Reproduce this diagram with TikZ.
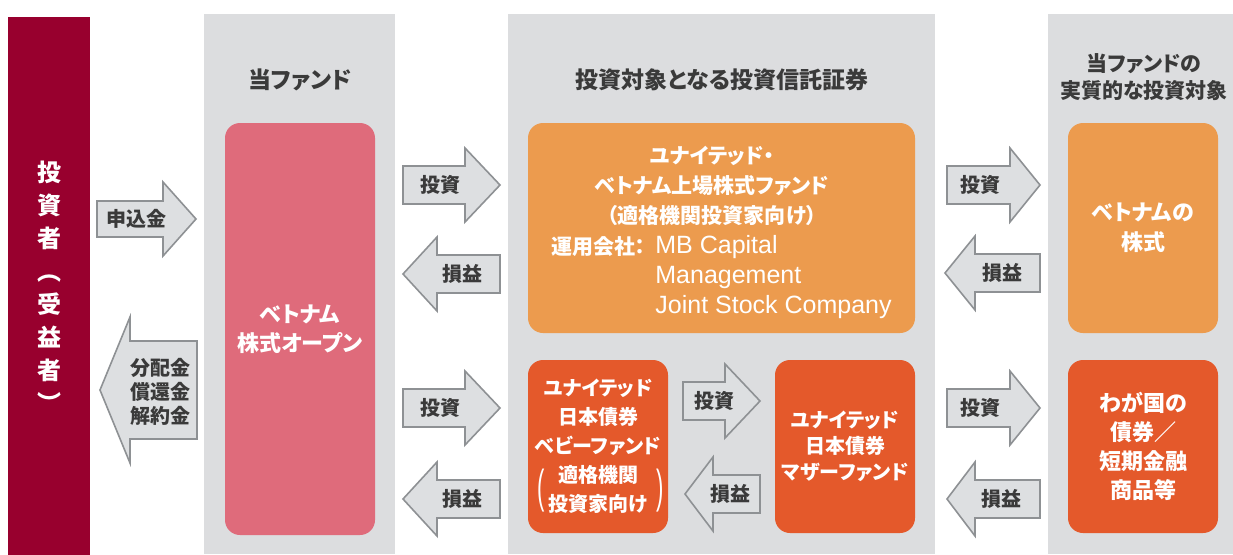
\documentclass[tikz,border=0pt]{standalone}
\usepackage{fontspec}
\newfontfamily\jpfont{Noto Sans CJK JP}[RawFeature=+palt]
\newfontfamily\latinfont{Liberation Sans}

\definecolor{investorred}{HTML}{98002E}
\definecolor{panelgray}{HTML}{DCDDDF}
\definecolor{fundpink}{HTML}{DF6B7B}
\definecolor{fundorange}{HTML}{EC9B4E}
\definecolor{fundred}{HTML}{E4592B}
\definecolor{arrowfill}{HTML}{DDDFE1}
\definecolor{arrowline}{HTML}{8E9194}
\definecolor{titletext}{HTML}{3A3A3A}

\newcommand{\boxfont}{\jpfont\bfseries\fontsize{11pt}{14.5pt}\selectfont}
\newcommand{\smallboxfont}{\jpfont\bfseries\fontsize{10pt}{14.5pt}\selectfont}
\newcommand{\titlefont}{\jpfont\bfseries\fontsize{11.5pt}{13.5pt}\selectfont}
\newcommand{\labelfont}{\jpfont\bfseries\fontsize{10pt}{12pt}\selectfont}

\tikzset{
  panel/.style={fill=panelgray, inner sep=0pt, minimum height=270pt},
  fundbox/.style={rounded corners=7.5pt, inner sep=0pt, text=white, align=center, font=\boxfont},
  boxtext/.style={inner sep=0pt, text=white, align=center, font=\boxfont},
  parenmark/.style={inner sep=0pt, text=white, yscale=2.1, font=\latinfont\fontsize{11pt}{11pt}\selectfont},
  blockarrow/.style={fill=arrowfill, draw=arrowline, line width=0.8pt},
  flowlabel/.style={inner sep=0pt, text=titletext, align=center, font=\labelfont},
  paneltitle/.style={inner sep=0pt, text=titletext, align=center, font=\titlefont}
}

\begin{document}
\begin{tikzpicture}[x=0.5pt,y=-0.5pt]
\useasboundingbox (0,0) rectangle (1233,554);

% investor bar and grey panels
\node[fill=investorred, inner sep=0pt, minimum width=41pt, minimum height=270pt, text=white, align=center,
  font=\jpfont\bfseries\fontsize{12pt}{16.5pt}\selectfont] (investor) at (49,287)
  {投\\資\\者\\︵\\受\\益\\者\\︶};
\node[panel, minimum width=95.5pt] (fundpanel) at (299.5,284) {};
\node[panel, minimum width=213.5pt] (targetpanel) at (721.5,284) {};
\node[panel, minimum width=92.5pt] (realpanel) at (1140.5,284) {};

% panel titles
\node[paneltitle] (fundtitle) at (300,80) {当ファンド};
\node[paneltitle] (targettitle) at (722,80) {投資対象となる投資信託証券};
\node[paneltitle, font=\jpfont\bfseries\fontsize{10.5pt}{13.5pt}\selectfont] (realtitle) at (1144,77)
  {当ファンドの\\実質的な投資対象};

% funds
\node[fundbox, fill=fundpink, minimum width=75pt, minimum height=206pt] (vnopen) at (300,329) {ベトナム\\株式オープン};
\node[fundbox, fill=fundorange, minimum width=193.5pt, minimum height=105pt] (unitedvn) at (721.5,228) {};
\node[boxtext, font=\jpfont\bfseries\fontsize{10.5pt}{15pt}\selectfont] (unitedvnname) at (712,186)
  {ユナイテッド・\\ベトナム上場株式ファンド\\（適格機関投資家向け）};
\node[boxtext, anchor=east, font=\jpfont\bfseries\fontsize{10.5pt}{15pt}\selectfont] (mgrlabel) at (646,247) {運用会社：};
\node[boxtext, anchor=west, align=left, font=\latinfont\fontsize{12.5pt}{15pt}\selectfont] (mgrname) at (655,277)
  {MB Capital\\Management\\Joint Stock Company};
\node[fundbox, fill=fundred, minimum width=70pt, minimum height=86.5pt, font=\smallboxfont] (babyfund) at (598,446.5)
  {ユナイテッド\\日本債券\\ベビーファンド\\適格機関\\投資家向け};
\node[parenmark] (babyparenl) at (541,491) {(};
\node[parenmark] (babyparenr) at (660,491) {)};
\node[fundbox, fill=fundred, minimum width=70pt, minimum height=86.5pt,
  font=\jpfont\bfseries\fontsize{10pt}{13pt}\selectfont] (motherfund) at (845,446.5)
  {ユナイテッド\\日本債券\\マザーファンド};
\node[fundbox, fill=fundorange, minimum width=75pt, minimum height=105pt,
  font=\jpfont\bfseries\fontsize{11pt}{15pt}\selectfont] (vnstock) at (1143,228) {ベトナムの\\株式};
\node[fundbox, fill=fundred, minimum width=75pt, minimum height=86.5pt] (jpbond) at (1143,446.5)
  {わが国の\\債券／\\短期金融\\商品等};

% investor arrows
\draw[blockarrow] (97,201) -- (163,201) -- (163,182) -- (196,219) -- (163,256) -- (163,237) -- (97,237) -- cycle;
\node[flowlabel] (subscribe) at (136,219) {申込金};
\draw[blockarrow] (197,341) -- (130,341) -- (130,317) -- (100,390) -- (130,463) -- (130,439) -- (197,439) -- cycle;
\node[flowlabel] (payout) at (160,392) {分配金\\償還金\\解約金};

% investment arrows
\foreach \xl/\xh/\xt/\yc/\xs/\nm in {403/465/500/185/440/investa, 403/465/500/408/440/investb,
    683/725/760/401/714/investc, 947/1010/1040/185/980/investd, 947/1010/1040/408/980/investe}{
  \draw[blockarrow] (\xl,\yc-19) -- (\xh,\yc-19) -- (\xh,\yc-37) -- (\xt,\yc) -- (\xh,\yc+37) -- (\xh,\yc+19) -- (\xl,\yc+19) -- cycle;
  \node[flowlabel] (\nm) at (\xs,\yc) {投資};
}
% profit arrows
\foreach \xt/\xh/\xr/\yc/\xs/\nm in {403/437/500/274/462/profita, 403/437/500/499/462/profitb,
    685/713/760/494/730/profitc, 945/975/1040/273/1002/profitd, 947/975/1040/499/1001/profite}{
  \draw[blockarrow] (\xr,\yc-19) -- (\xh,\yc-19) -- (\xh,\yc-37) -- (\xt,\yc) -- (\xh,\yc+37) -- (\xh,\yc+19) -- (\xr,\yc+19) -- cycle;
  \node[flowlabel] (\nm) at (\xs,\yc) {損益};
}
\end{tikzpicture}
\end{document}
